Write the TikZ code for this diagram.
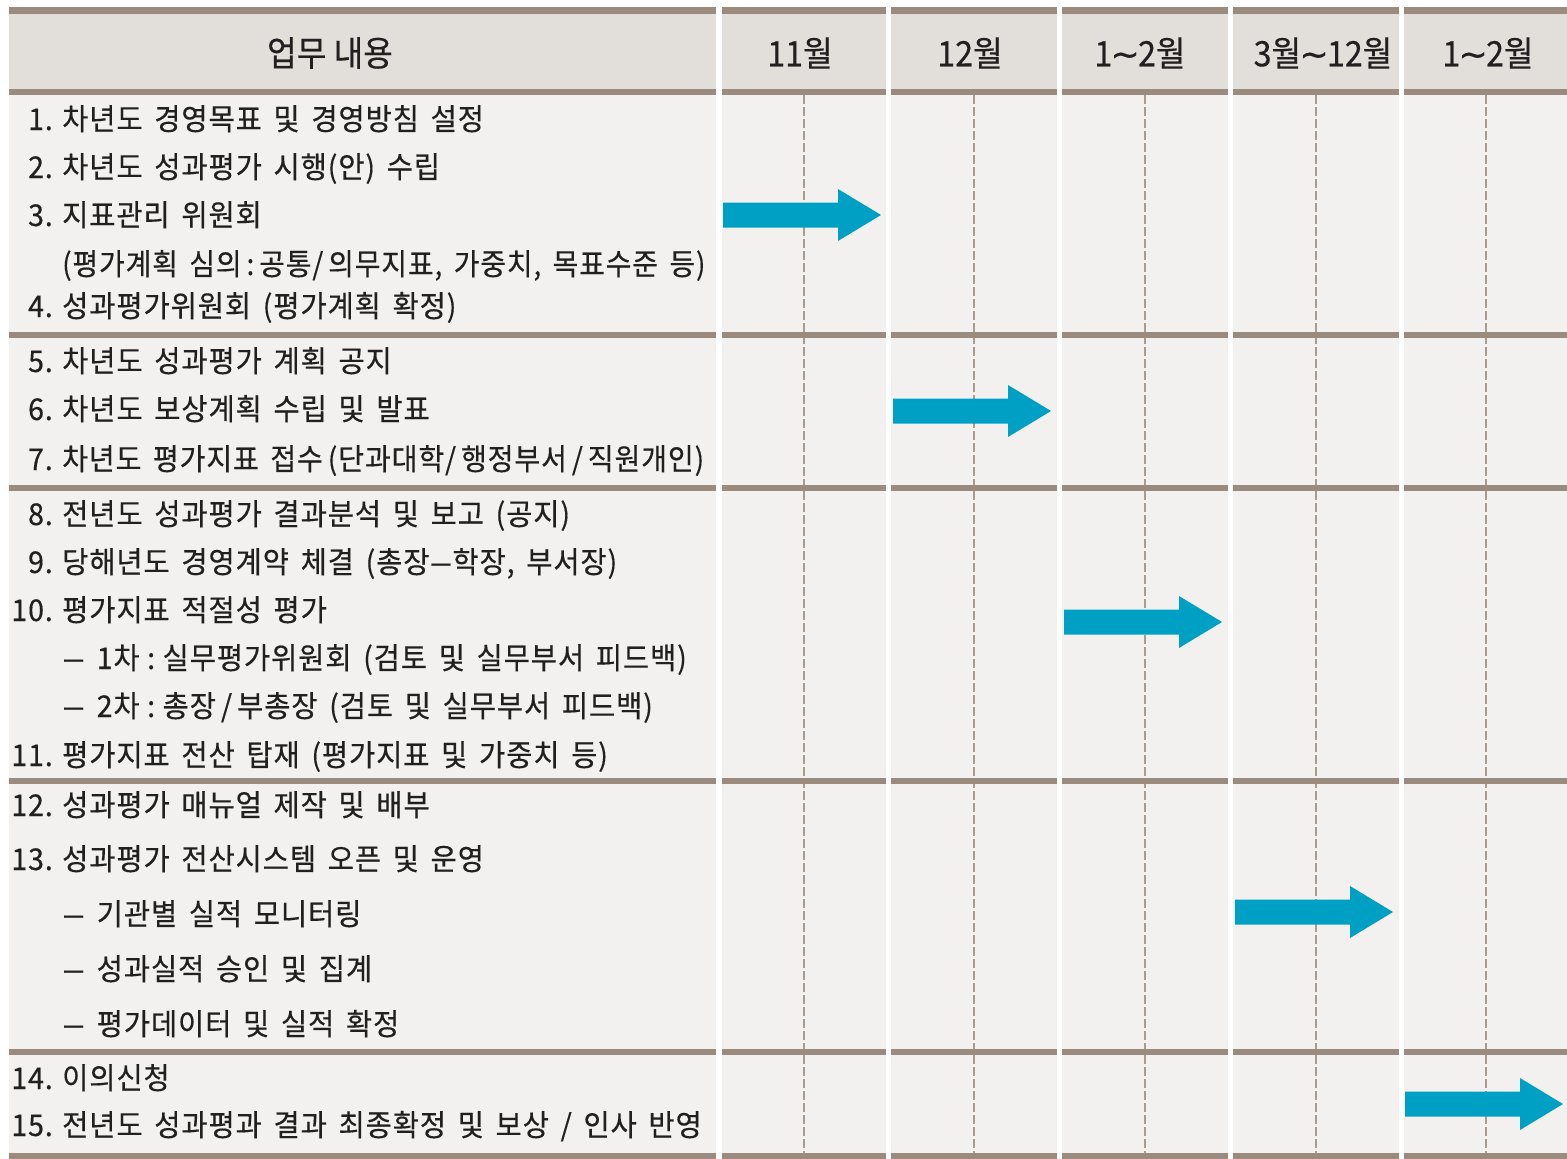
\documentclass[tikz,border=0pt]{standalone}
\usepackage{fontspec}
\newfontfamily\krfont[FakeStretch=0.95,WordSpace=1.6,LetterSpace=3,FakeBold=0.4]{Noto Sans CJK KR}
\newfontfamily\krhead[FakeStretch=0.92,FakeBold=0.4]{Noto Sans CJK KR}
\newfontfamily\symfnt[FakeBold=0.4]{DejaVu Sans}
\definecolor{hdrfill}{HTML}{E2DFDA}
\definecolor{bodyfill}{HTML}{F2F1EF}
\definecolor{barc}{HTML}{9A8B7E}
\definecolor{dashc}{HTML}{A89C90}
\definecolor{arrowc}{HTML}{00A0C4}
\definecolor{txtc}{HTML}{231F20}
\tikzset{
  itemtxt/.style={anchor=base west,inner sep=0pt,text=txtc,font=\krfont\fontsize{30}{30}\selectfont},
  numtxt/.style={anchor=base east,inner sep=0pt,text=txtc,font=\krfont\fontsize{30}{30}\selectfont},
  hdrtxt/.style={anchor=center,inner sep=0pt,text=txtc,font=\krhead\fontsize{35}{35}\selectfont},
  bar/.style={fill=barc},
  guide/.style={draw=dashc,line width=1.3pt,dash pattern=on 9pt off 3pt},
  pics/garrow/.style={code={
    \fill[arrowc] (0,-12.5) -- (115,-12.5) -- (115,-26) -- (158,0) -- (115,26) -- (115,12.5) -- (0,12.5) -- cycle;}}
}
\newcommand\rowitem[4]{%
  \node[numtxt] (#1n) at (53,#2+10) {#3};
  \node[itemtxt] (#1) at (62,#2+10) {#4};}
\newcommand\rowsub[3]{%
  \node[itemtxt] (#1) at (62,#2+10) {#3};}
\newcommand\ldash{\scalebox{1.5}[1]{–}}
\newcommand\tld{{\symfnt\kern-0.05em ∼\kern-0.05em}}
\newcommand\msp{\hspace{0.25em}}
\begin{document}
\begin{tikzpicture}[x=1pt,y=-1pt]
\useasboundingbox (0,0) rectangle (1567,1159);
\fill[white] (0,0) rectangle (1567,1159);
% columns
\foreach \l/\r in {9/716,722/886,891/1057,1062/1228,1233/1399,1404/1567}{
  \fill[hdrfill] (\l,14) rectangle (\r,89);
  \fill[bodyfill] (\l,95) rectangle (\r,1153);
}
% dashed guides
\foreach \c in {804,974,1145,1316,1486}{
  \draw[guide] (\c,95) -- (\c,1153);
}
% bars
\foreach \l/\r in {9/716,722/886,891/1057,1062/1228,1233/1399,1404/1567}{
  \foreach \t/\b in {7/14,89/95,332/338,485/491,778/784,1049/1055,1153/1159}{
    \fill[bar] (\l,\t) rectangle (\r,\b);
  }
}
% header
\node[hdrtxt] (h0) at (330,53) {업무 내용};
\node[hdrtxt] (h1) at (800,53) {11월};
\node[hdrtxt] (h2) at (970,53) {12월};
\node[hdrtxt] (h3) at (1140,53) {1\tld 2월};
\node[hdrtxt] (h4) at (1323,53) {3월\tld 12월};
\node[hdrtxt] (h5) at (1488,53) {1\tld 2월};
% rows
\rowitem{r1}{120}{1.}{차년도 경영목표 및 경영방침 설정}
\rowitem{r2}{168}{2.}{차년도 성과평가 시행(안) 수립}
\rowitem{r3}{216}{3.}{지표관리 위원회}
\rowsub{r3a}{265}{\scalebox{0.98}[1]{(평가계획 심의\,:\,공통/\,의무지표, 가중치, 목표수준 등)}}
\rowitem{r4}{307}{4.}{성과평가위원회 (평가계획 확정)}
\rowitem{r5}{362}{5.}{차년도 성과평가 계획 공지}
\rowitem{r6}{410}{6.}{차년도 보상계획 수립 및 발표}
\rowitem{r7}{460}{7.}{\scalebox{0.985}[1]{차년도 평가지표 접수\,(단과대학/\,행정부서\,/\,직원개인)}}
\rowitem{r8}{515}{8.}{전년도 성과평가 결과분석 및 보고 (공지)}
\rowitem{r9}{563}{9.}{당해년도 경영계약 체결 (총장\ldash 학장, 부서장)}
\rowitem{r10}{611}{10.}{평가지표 적절성 평가}
\rowsub{r10a}{659}{\ldash\ 1차\msp:\msp 실무평가위원회 (검토 및 실무부서 피드백)}
\rowsub{r10b}{707}{\ldash\ 2차\msp:\msp 총장\,/\,부총장 (검토 및 실무부서 피드백)}
\rowitem{r11}{756}{11.}{평가지표 전산 탑재 (평가지표 및 가중치 등)}
\rowitem{r12}{806}{12.}{성과평가 매뉴얼 제작 및 배부}
\rowitem{r13}{860}{13.}{성과평가 전산시스템 오픈 및 운영}
\rowsub{r13a}{915}{\ldash\ 기관별 실적 모니터링}
\rowsub{r13b}{970}{\ldash\ 성과실적 승인 및 집계}
\rowsub{r13c}{1025}{\ldash\ 평가데이터 및 실적 확정}
\rowitem{r14}{1079}{14.}{이의신청}
\rowitem{r15}{1126}{15.}{전년도 성과평과 결과 최종확정 및 보상 / 인사 반영}
% arrows
\pic at (723,215) {garrow};
\pic at (893,411) {garrow};
\pic at (1064,622) {garrow};
\pic at (1235,912) {garrow};
\pic at (1405,1104) {garrow};
\end{tikzpicture}
\end{document}
